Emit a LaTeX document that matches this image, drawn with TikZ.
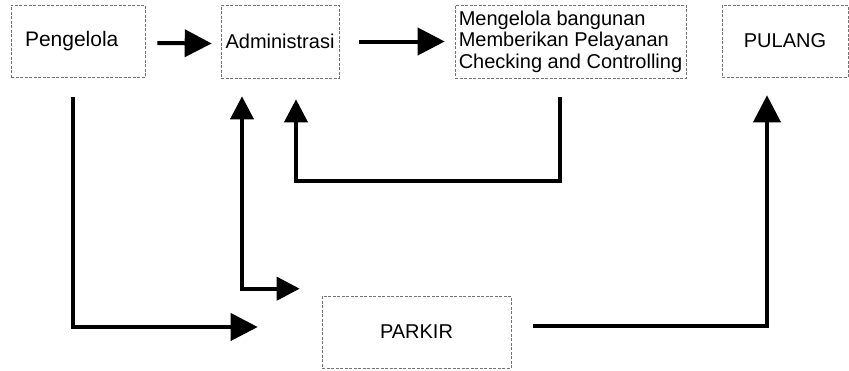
\documentclass[tikz,border=0pt]{standalone}
\usepackage{fontspec}
\setmainfont{Liberation Sans}
\usetikzlibrary{arrows.meta,calc}
\begin{document}
\begin{tikzpicture}[x=1pt,y=-1pt,
  box/.style={draw=black!55, line width=0.6pt, dash pattern=on 3pt off 1.5pt,
    inner sep=0pt, font=\fontsize{20}{21.5}\selectfont},
  arr/.style={line width=4pt, line join=miter, -{Triangle[length=27pt,width=27pt]}},
  darr/.style={line width=4pt, line join=miter, {Triangle[length=23pt,width=23pt]}-{Triangle[length=23pt,width=23pt]}}]
\useasboundingbox (0,0) rectangle (849,370);
\node[box, minimum width=134pt, minimum height=72pt, font=\fontsize{21}{22}\selectfont,
  text width=120pt, align=left] (peng) at (78,41) {\hspace*{7pt}Pengelola};
\node[box, minimum width=118pt, minimum height=73pt] (adm) at (280,41.5) {Administrasi};
\node[box, minimum width=231pt, minimum height=73pt, align=left] (meng) at (570.5,41.5)
  {Mengelola bangunan\\Memberikan Pelayanan\\Checking and Controlling};
\node[box, minimum width=126pt, minimum height=72pt] (pul) at (785,41) {PULANG};
\node[box, minimum width=189pt, minimum height=72pt] (park) at (416.5,332) {PARKIR};

\draw[arr] ([xshift=12pt,yshift=-2pt]peng.east) -- ([xshift=-9pt,yshift=-2pt]adm.west);
\draw[arr] ([xshift=20pt]adm.east) -- ([xshift=-10pt]meng.west);
\draw[arr] ($(peng.south)+(-5,20)$) |- ($(park.west)+(-64,-5)$);
\draw[darr] ($(adm.south)+(-38,18)$) |- ($(park.north west)+(-22,-7)$);
\draw[line width=4pt, line join=miter, -{Triangle[length=23pt,width=23pt]}]
  ($(meng.south)+(-10.5,19)$) -- ++(0,84) -| ($(adm.south)+(16,21)$);
\draw[arr] ($(park.east)+(22,-6)$) -| ($(pul.south)+(-18,18)$);
\end{tikzpicture}
\end{document}
